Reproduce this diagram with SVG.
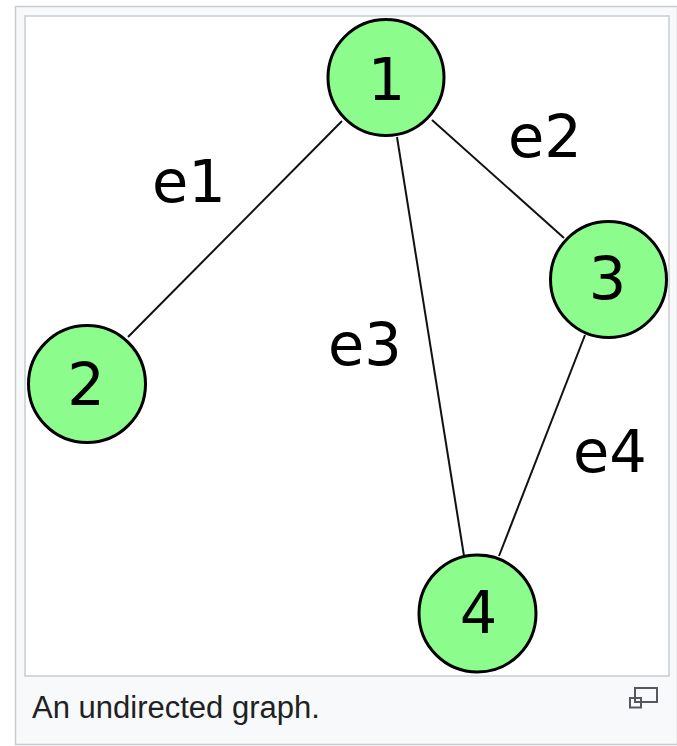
<svg xmlns="http://www.w3.org/2000/svg" width="677" height="746" viewBox="0 0 677 746">
<style>
.frame{fill:#f8f9fa;stroke:#c8ccd1;stroke-width:1.5}
.img{fill:#ffffff;stroke:#c8ccd1;stroke-width:1.5}
.edge{stroke:#111;stroke-width:2;fill:none}
.node circle{fill:#8cfd8c;stroke:#000;stroke-width:3}
.lbl{font-family:"DejaVu Sans",sans-serif;font-size:59px;fill:#000}
.cap{font-family:"Liberation Sans",Arial,sans-serif;font-size:31px;fill:#202122}
.icon{fill:none;stroke:#54595d;stroke-width:2}
</style>
<rect class="frame" x="15.5" y="6.5" width="662" height="738"/>
<rect class="img" x="25" y="16" width="644" height="660"/>
<g id="connectors">
<line class="edge" x1="342" y1="121" x2="128" y2="337"/>
<line class="edge" x1="397" y1="137" x2="464" y2="556"/>
<line class="edge" x1="432" y1="120" x2="564" y2="238"/>
<line class="edge" x1="585" y1="335" x2="499" y2="556"/>
</g>
<g id="edge-labels">
<text class="lbl" x="152" y="202">e1</text>
<text class="lbl" x="508" y="157">e2</text>
<text class="lbl" x="328" y="365">e3</text>
<text class="lbl" x="573" y="472">e4</text>
</g>
<g id="node1" class="node"><circle cx="386" cy="77.5" r="58"/><text class="lbl" x="386.5" y="100" text-anchor="middle">1</text></g>
<g id="node2" class="node"><circle cx="87" cy="384" r="58.5"/><text class="lbl" x="86" y="405" text-anchor="middle">2</text></g>
<g id="node3" class="node"><circle cx="608.5" cy="279.5" r="58"/><text class="lbl" x="607.5" y="299" text-anchor="middle">3</text></g>
<g id="node4" class="node"><circle cx="477.5" cy="613.5" r="58.5"/><text class="lbl" x="478.5" y="633" text-anchor="middle">4</text></g>
<text class="cap" x="32" y="718">An undirected graph.</text>
<g id="magnify">
<rect class="icon" x="635" y="688" width="22" height="14"/>
<rect x="630" y="698" width="11" height="9.5" fill="#f8f9fa" class="icon"/>
</g>
</svg>
